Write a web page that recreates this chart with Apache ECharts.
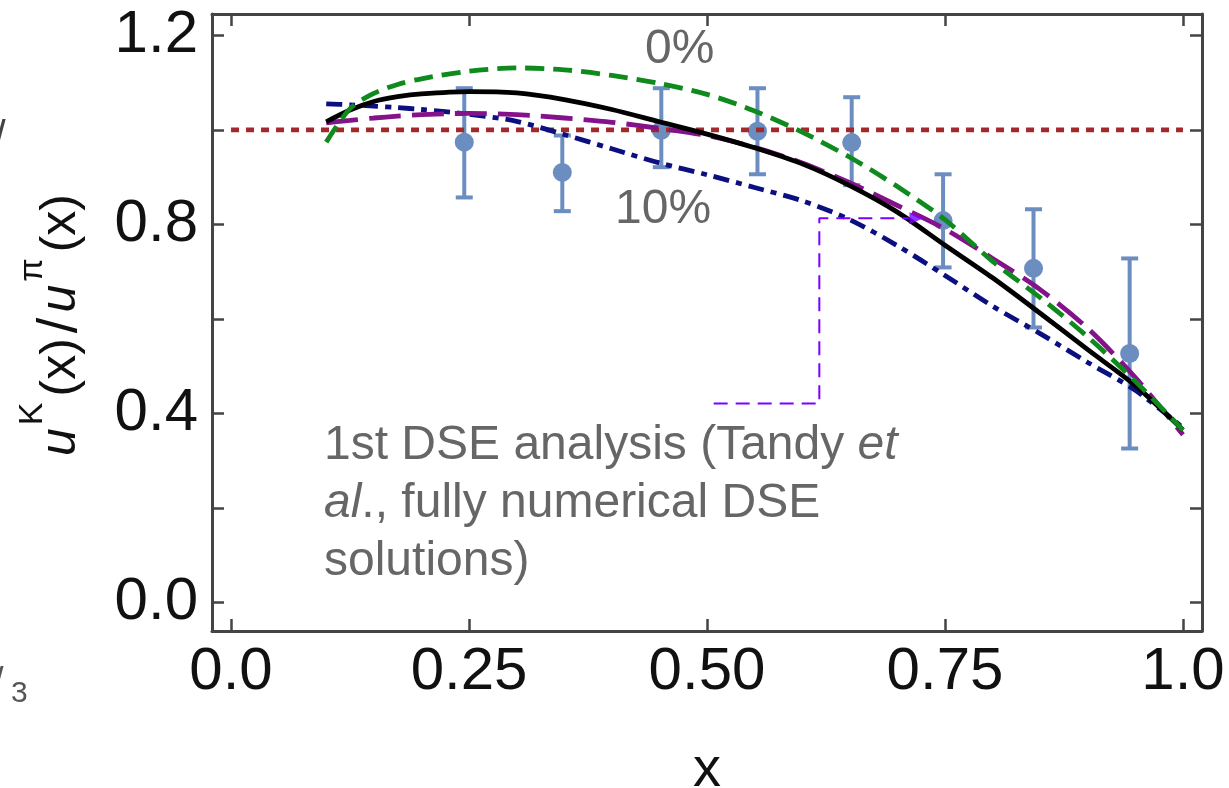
<!DOCTYPE html>
<html>
<head>
<meta charset="utf-8">
<title>u^K(x)/u^pi(x)</title>
<script src="https://cdn.jsdelivr.net/npm/echarts@6.0.0/dist/echarts.min.js"></script>
<style>
  html, body { margin: 0; padding: 0; background: #fff; }
  #chart { width: 1229px; height: 788px; }
</style>
</head>
<body>
<div id="chart"></div>
<script>
// axis ticks
const xTicks = [0, 0.25, 0.5, 0.75, 1.0];
const xTickLabels = ["0.0", "0.25", "0.50", "0.75", "1.0"];
const yTicks = [0, 0.2, 0.4, 0.6, 0.8, 1.0, 1.2];
const yLabelTicks = [0, 0.4, 0.8, 1.2];

// curves, sampled on a common x grid (finer near the start, where they bend)
const curveX = [0.10, 0.125, 0.15, 0.175, 0.20, 0.25, 0.30, 0.35, 0.40, 0.45, 0.50,
  0.55, 0.60, 0.65, 0.70, 0.75, 0.80, 0.85, 0.90, 0.95, 1.00];
const greenY = [0.974, 1.045, 1.077, 1.096, 1.108, 1.124, 1.131, 1.127, 1.115, 1.098, 1.075,
  1.040, 0.995, 0.942, 0.880, 0.810, 0.722, 0.645, 0.562, 0.468, 0.365];
const blackY = [1.017, 1.042, 1.060, 1.070, 1.076, 1.081, 1.078, 1.064, 1.043, 1.017, 0.991,
  0.962, 0.928, 0.882, 0.826, 0.756, 0.687, 0.612, 0.535, 0.459, 0.365];
const purpleY = [1.015, 1.020, 1.025, 1.029, 1.032, 1.035, 1.032, 1.025, 1.016, 1.003, 0.988,
  0.963, 0.930, 0.888, 0.840, 0.790, 0.728, 0.662, 0.580, 0.476, 0.355];
const navyY = [1.055, 1.053, 1.050, 1.047, 1.043, 1.033, 1.018, 0.990, 0.960, 0.930, 0.905,
  0.878, 0.850, 0.810, 0.755, 0.692, 0.627, 0.569, 0.508, 0.449, 0.370];
const refX = [0, 1];
const refY = [1, 1];

// data points with error bars
const pointX = [0.245, 0.348, 0.452, 0.553, 0.652, 0.748, 0.843, 0.944];
const pointY = [0.974, 0.910, 0.999, 0.997, 0.973, 0.808, 0.707, 0.527];
const pointLow = [0.857, 0.828, 0.921, 0.906, 0.883, 0.709, 0.582, 0.326];
const pointHigh = [1.088, 0.988, 1.088, 1.088, 1.069, 0.906, 0.832, 0.728];

// annotation arrow (data units)
const arrowPath = [[0.507, 0.421], [0.618, 0.421], [0.618, 0.813], [0.712, 0.813]];
const arrowTip = [0.72, 0.813];

const FONT = "Liberation Sans, Arial, sans-serif";
const ERR_COLOR = "#6b8dc0";

const chart = echarts.init(document.getElementById("chart"));

function pairs(xs, ys) {
  return xs.map((x, i) => [x, ys[i]]);
}

function curve(name, ys, color, dash, z) {
  return {
    name,
    type: "line",
    data: pairs(curveX, ys),
    smooth: 0.3,
    showSymbol: false,
    silent: true,
    z,
    lineStyle: { color, width: 4.8, type: dash },
  };
}

const frameLine = { show: true, onZero: false, lineStyle: { color: "#444", width: 3 } };
const tickStyle = { color: "#444", width: 2.5 };

chart.setOption({
  animation: false,
  backgroundColor: "#fff",
  grid: { left: 212, right: 27, top: 14, bottom: 157, outerBoundsMode: "none", containLabel: false },
  xAxis: [
    {
      type: "value",
      min: -0.02,
      max: 1.02,
      position: "bottom",
      axisLine: frameLine,
      axisTick: { inside: true, length: 12, customValues: xTicks, lineStyle: tickStyle },
      axisLabel: {
        customValues: xTicks,
        formatter: (v) => xTickLabels[xTicks.indexOf(v)],
        fontFamily: FONT,
        fontSize: 60,
        color: "#111",
        margin: 11,
      },
      splitLine: { show: false },
      name: "x",
      nameLocation: "middle",
      nameGap: 112,
      nameTextStyle: { fontFamily: FONT, fontSize: 56, color: "#111" },
    },
    {
      type: "value",
      min: -0.02,
      max: 1.02,
      position: "top",
      axisLine: frameLine,
      axisTick: { inside: true, length: 12, customValues: xTicks, lineStyle: tickStyle },
      axisLabel: { show: false },
      splitLine: { show: false },
    },
  ],
  yAxis: [
    {
      type: "value",
      min: -0.06,
      max: 1.245,
      position: "left",
      axisLine: frameLine,
      axisTick: { inside: true, length: 12, customValues: yTicks, lineStyle: tickStyle },
      axisLabel: {
        customValues: yLabelTicks,
        formatter: (v) => v.toFixed(1),
        fontFamily: FONT,
        fontSize: 60,
        color: "#111",
        margin: 14,
      },
      splitLine: { show: false },
    },
    {
      type: "value",
      min: -0.06,
      max: 1.245,
      position: "right",
      axisLine: frameLine,
      axisTick: { inside: true, length: 12, customValues: yTicks, lineStyle: tickStyle },
      axisLabel: { show: false },
      splitLine: { show: false },
    },
  ],
  series: [
    {
      name: "data",
      type: "custom",
      z: 1,
      silent: true,
      data: pointX.map((x, i) => [x, pointY[i], pointLow[i], pointHigh[i]]),
      encode: { x: 0, y: 1 },
      renderItem(params, api) {
        const x = api.value(0);
        const c = api.coord([x, api.value(1)]);
        const lo = api.coord([x, api.value(2)]);
        const hi = api.coord([x, api.value(3)]);
        const cap = 8.5;
        const st = { stroke: ERR_COLOR, lineWidth: 4 };
        return {
          type: "group",
          children: [
            { type: "line", shape: { x1: hi[0], y1: hi[1], x2: lo[0], y2: lo[1] }, style: st },
            { type: "line", shape: { x1: hi[0] - cap, y1: hi[1], x2: hi[0] + cap, y2: hi[1] }, style: st },
            { type: "line", shape: { x1: lo[0] - cap, y1: lo[1], x2: lo[0] + cap, y2: lo[1] }, style: st },
            { type: "circle", shape: { cx: c[0], cy: c[1], r: 9.5 }, style: { fill: ERR_COLOR } },
          ],
        };
      },
    },
    {
      name: "reference",
      type: "line",
      data: pairs(refX, refY),
      showSymbol: false,
      silent: true,
      z: 2,
      lineStyle: { color: "#a3282b", width: 4.8, type: [8, 7] },
    },
    curve("navy", navyY, "#0b0f80", [16, 7, 6, 7], 3),
    curve("purple", purpleY, "#84128a", [32, 11], 4),
    curve("black", blackY, "#000", "solid", 5),
    curve("green", greenY, "#0f8a1c", [19, 9], 6),
    {
      name: "arrow",
      type: "line",
      data: arrowPath,
      showSymbol: false,
      silent: true,
      z: 7,
      lineStyle: { color: "#7a00ff", width: 2, type: [14, 8] },
    },
    {
      name: "arrowHead",
      type: "scatter",
      data: [arrowTip],
      symbol: "triangle",
      symbolSize: [12, 14],
      symbolRotate: -90,
      silent: true,
      z: 7,
      itemStyle: { color: "#7a00ff" },
    },
  ],
  graphic: [
    {
      type: "text",
      x: 61,
      y: 325,
      rotation: Math.PI / 2,
      style: {
        text: "{u|u}{s|K}{n|(x)}{d|/}{u|u}{p|π}{n|(x)}",
        align: "center",
        verticalAlign: "middle",
        rich: {
          u: { fontFamily: FONT, fontSize: 50, fontStyle: "italic", fill: "#111", lineHeight: 90 },
          n: { fontFamily: FONT, fontSize: 50, fill: "#111", lineHeight: 90 },
          d: { fontFamily: FONT, fontSize: 56, fill: "#111", lineHeight: 90, padding: [0, 5, 0, 5] },
          s: { fontFamily: FONT, fontSize: 34, fill: "#111", lineHeight: 34, verticalAlign: "top", padding: [0, 6, 0, 3] },
          p: { fontFamily: FONT, fontSize: 34, fill: "#111", lineHeight: 34, verticalAlign: "top", padding: [0, 6, 0, 3] },
        },
      },
    },
    {
      type: "text",
      x: 645,
      y: 50,
      style: { text: "0%", fontFamily: FONT, fontSize: 48, fill: "#666", verticalAlign: "middle" },
    },
    {
      type: "text",
      x: 615,
      y: 210,
      style: { text: "10%", fontFamily: FONT, fontSize: 48, fill: "#666", verticalAlign: "middle" },
    },
    {
      type: "text",
      x: 324,
      y: 504,
      style: {
        text: "{n|1st DSE analysis (Tandy }{i|et}\n{i|al}{n|., fully numerical DSE}\n{n|solutions)}",
        verticalAlign: "middle",
        rich: {
          n: { fontFamily: FONT, fontSize: 48, fill: "#666", lineHeight: 58 },
          i: { fontFamily: FONT, fontSize: 48, fill: "#666", lineHeight: 58, fontStyle: "italic" },
        },
      },
    },
    {
      type: "text",
      x: -6,
      y: 138,
      style: { text: "/", fontFamily: FONT, fontSize: 42, fill: "#444", verticalAlign: "middle" },
    },
    {
      type: "text",
      x: -7,
      y: 684,
      style: { text: "/", fontFamily: FONT, fontSize: 38, fill: "#555", verticalAlign: "middle" },
    },
    {
      type: "text",
      x: 11,
      y: 694,
      style: { text: "3", fontFamily: FONT, fontSize: 30, fill: "#555", verticalAlign: "middle" },
    },
  ],
});
</script>
</body>
</html>
